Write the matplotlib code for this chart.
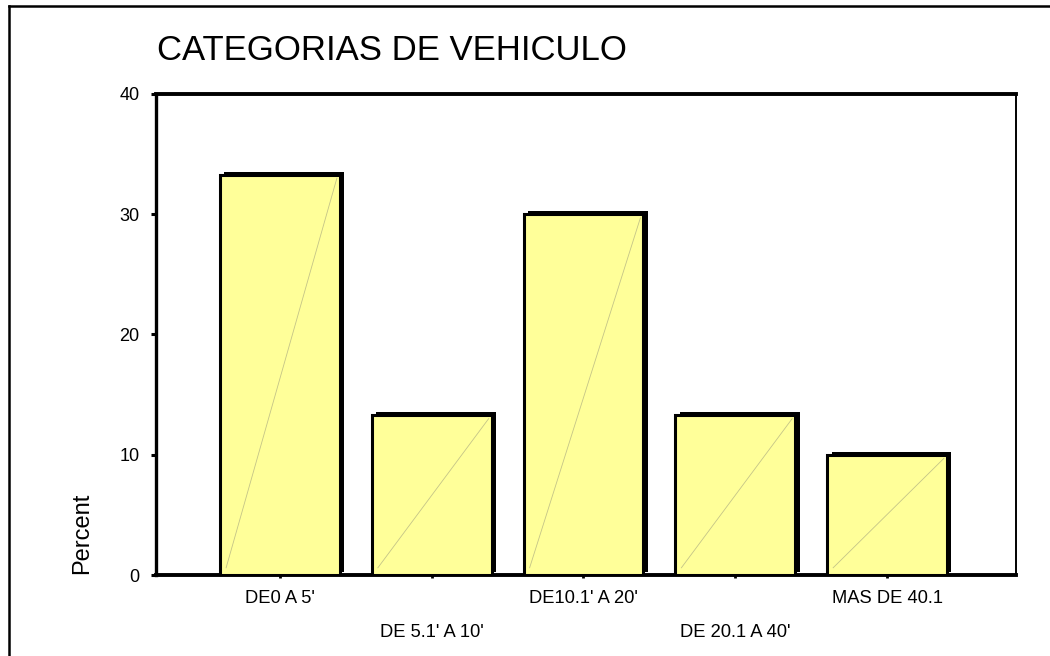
import matplotlib
matplotlib.use("Agg")
import matplotlib.pyplot as plt
from matplotlib.lines import Line2D
import matplotlib.patheffects as pe

plt.rcParams["font.family"] = ["Liberation Sans", "DejaVu Sans"]

categories = ["DE0 A 5'", "DE 5.1' A 10'", "DE10.1' A 20'", "DE 20.1 A 40'", "MAS DE 40.1"]
percent = [33.3, 13.3, 30.0, 13.3, 10.0]
yticks = [0, 10, 20, 30, 40]

W, H = 1050, 656
fig = plt.figure(figsize=(W / 100, H / 100), dpi=100)
L, R, B, T = 156, 1016, 575, 94
ax = fig.add_axes([L / W, 1 - B / H, (R - L) / W, (B - T) / H])

x = list(range(len(categories)))
bars = ax.bar(x, percent, width=0.79, color="#FFFF99", edgecolor="k",
              linewidth=2.2, zorder=3)
for b in bars:
    b.set_path_effects([pe.SimplePatchShadow(offset=(3.2, 2.0), shadow_rgbFace="k", alpha=1),
                        pe.Normal()])
    x0, w, h = b.get_x(), b.get_width(), b.get_height()
    ax.plot([x0 + 0.04, x0 + w - 0.02], [0.6, h - 0.3], color="#c4c488", lw=0.6, zorder=4)

ax.set_xlim(-0.817, 4.85)
ax.set_ylim(0, 40)
ax.set_yticks(yticks)
ax.set_xticks(x)
ax.set_xticklabels(categories, fontsize=13.2)
ax.tick_params(axis="y", direction="out", length=3.8, width=2.2, pad=8, labelsize=13)
ax.tick_params(axis="x", direction="out", length=2.2, width=2, labelsize=13.2)
for i, t in enumerate(ax.xaxis.get_major_ticks()):
    t.set_pad(8.5 if i % 2 == 0 else 33)

ax.spines["left"].set_linewidth(2.4)
ax.spines["top"].set_linewidth(2.8)
ax.spines["bottom"].set_linewidth(2.8)
ax.spines["right"].set_linewidth(1.4)

fig.text(157 / W, 1 - 60 / H, "CATEGORIAS DE VEHICULO", fontsize=25, va="baseline", ha="left")
fig.text(82 / W, 1 - 533 / H, "Percent", fontsize=17, rotation=90, ha="center", va="center")

# outer frame
fig.add_artist(Line2D([9 / W, 9 / W], [0, 1 - 6 / H], color="k", lw=1.8, transform=fig.transFigure))
fig.add_artist(Line2D([9 / W, 1], [1 - 6 / H, 1 - 6 / H], color="k", lw=1.8, transform=fig.transFigure))

fig.savefig("out.png", dpi=100)
